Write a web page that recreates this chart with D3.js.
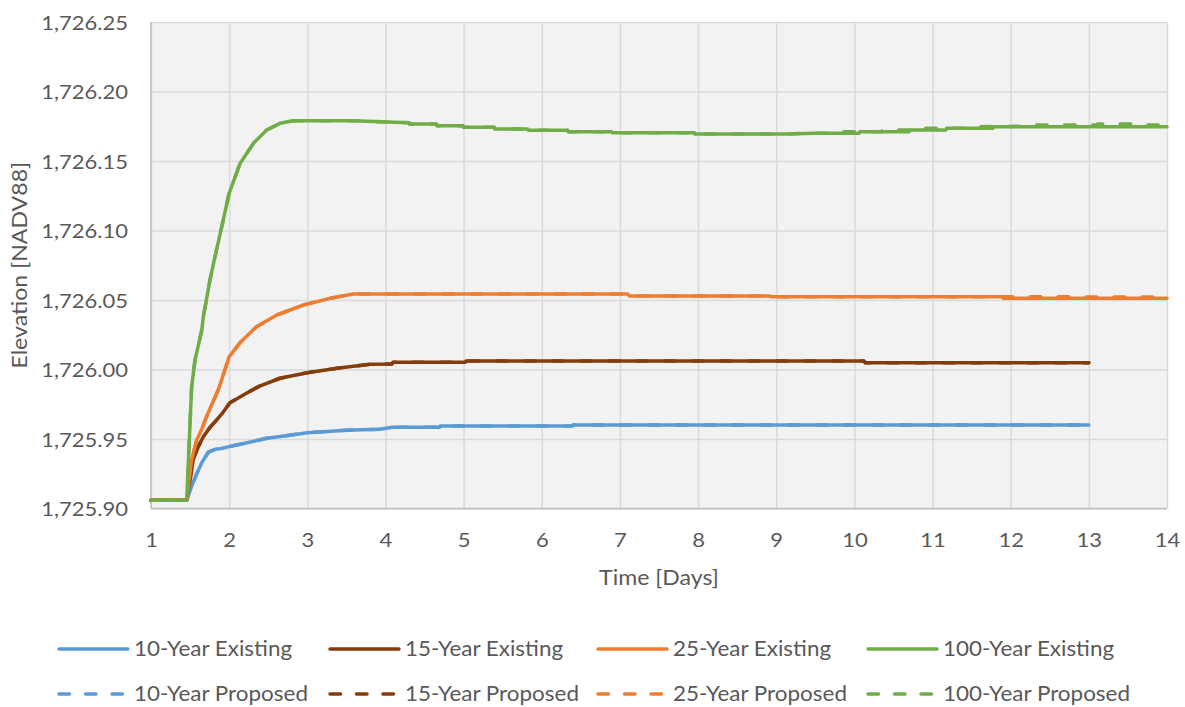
<!DOCTYPE html>
<html>
<head>
<meta charset="utf-8">
<script src="https://cdn.jsdelivr.net/npm/d3@7"></script>
<style>
  html, body { margin: 0; padding: 0; background: #ffffff; }
  svg { display: block; }
  text { font-family: Lato, "Open Sans", sans-serif; fill: #595959; }
</style>
</head>
<body>
<svg id="chart" width="1185" height="707"></svg>
<script>
// Water surface elevation over time for each storm event (day, elevation NAVD88)
const xTicks = [1, 2, 3, 4, 5, 6, 7, 8, 9, 10, 11, 12, 13, 14];
const yTicks = [1725.90, 1725.95, 1726.00, 1726.05, 1726.10, 1726.15, 1726.20, 1726.25];

const existing10 = [
  [1, 1725.906], [1.457, 1725.906], [1.52, 1725.916], [1.585, 1725.925], [1.65, 1725.933],
  [1.733, 1725.9405], [1.82, 1725.9426], [1.9, 1725.9432], [2.0, 1725.9445], [2.2, 1725.947],
  [2.48, 1725.9505], [2.75, 1725.9525], [3.0, 1725.9545], [3.5, 1725.9563], [3.93, 1725.957],
  [4.09, 1725.9584], [4.69, 1725.9584], [4.70, 1725.9594], [6.39, 1725.9594], [6.40, 1725.9601],
  [13, 1725.9601]
];
const proposed10 = [
  [1, 1725.906], [1.457, 1725.906], [1.52, 1725.916], [1.585, 1725.925], [1.65, 1725.933],
  [1.733, 1725.9405], [1.82, 1725.9426], [1.9, 1725.9432], [2.0, 1725.9445], [2.2, 1725.947],
  [2.48, 1725.9505], [2.75, 1725.9525], [3.0, 1725.9545], [3.5, 1725.9563], [3.93, 1725.957],
  [4.09, 1725.9584], [4.69, 1725.9584], [4.70, 1725.9594], [6.39, 1725.9594], [6.40, 1725.9601],
  [13, 1725.9601]
];

const existing15 = [
  [1, 1725.906], [1.457, 1725.906], [1.54, 1725.935], [1.60, 1725.944], [1.67, 1725.9517],
  [1.75, 1725.958], [1.84, 1725.9637], [1.92, 1725.969], [2.01, 1725.9761], [2.1, 1725.979],
  [2.22, 1725.9829], [2.39, 1725.9881], [2.65, 1725.9937], [3.0, 1725.9977], [3.38, 1726.0009],
  [3.8, 1726.0037], [4.08, 1726.0040], [4.1, 1726.0052], [5.02, 1726.0052], [5.03, 1726.0061],
  [10.12, 1726.0061], [10.14, 1726.0049], [13, 1726.0049]
];
const proposed15 = [
  [1, 1725.906], [1.457, 1725.906], [1.54, 1725.935], [1.60, 1725.944], [1.67, 1725.9517],
  [1.75, 1725.958], [1.84, 1725.9637], [1.92, 1725.969], [2.01, 1725.9761], [2.1, 1725.979],
  [2.22, 1725.9829], [2.39, 1725.9881], [2.65, 1725.9937], [3.0, 1725.9977], [3.38, 1726.0009],
  [3.8, 1726.0037], [4.08, 1726.0040], [4.1, 1726.0052], [5.02, 1726.0052], [5.03, 1726.0061],
  [10.12, 1726.0061], [10.14, 1726.0049], [13, 1726.0049]
];

const existing25 = [
  [1, 1725.906], [1.457, 1725.906], [1.52, 1725.935], [1.585, 1725.9493], [1.65, 1725.957],
  [1.71, 1725.966], [1.78, 1725.975], [1.86, 1725.9853], [1.93, 1725.997], [2.0, 1726.0092],
  [2.15, 1726.020], [2.35, 1726.0308], [2.61, 1726.0392], [2.95, 1726.0464], [3.29, 1726.0512],
  [3.59, 1726.0543], [7.10, 1726.0543], [7.12, 1726.0529], [8.91, 1726.0529], [8.93, 1726.0524],
  [11.89, 1726.0524], [11.91, 1726.0512], [14, 1726.0512]
];
const proposed25 = [
  [1, 1725.906], [1.457, 1725.906], [1.52, 1725.935], [1.585, 1725.9493], [1.65, 1725.957],
  [1.71, 1725.966], [1.78, 1725.975], [1.86, 1725.9853], [1.93, 1725.997], [2.0, 1726.0092],
  [2.15, 1726.020], [2.35, 1726.0308], [2.61, 1726.0392], [2.95, 1726.0464], [3.29, 1726.0512],
  [3.59, 1726.0543], [7.10, 1726.0543], [7.12, 1726.0529], [8.91, 1726.0529], [8.93, 1726.0524],
  [14, 1726.0522]
];

const existing100 = [
  [1, 1725.906], [1.457, 1725.906], [1.52, 1725.9876], [1.563, 1726.0068], [1.65, 1726.0284],
  [1.67, 1726.038], [1.755, 1726.0644], [1.80, 1726.0764], [1.905, 1726.1027], [2.0, 1726.1268],
  [2.14, 1726.1483], [2.31, 1726.1627], [2.48, 1726.1723], [2.65, 1726.1771], [2.82, 1726.1790],
  [3.6, 1726.1790], [3.93, 1726.1783], [4.30, 1726.1776], [4.31, 1726.1766], [4.65, 1726.1766],
  [4.66, 1726.1754], [4.99, 1726.1754], [5.0, 1726.1742], [5.39, 1726.1742], [5.40, 1726.1730],
  [5.82, 1726.1730], [5.83, 1726.1721], [6.33, 1726.1721], [6.34, 1726.1711], [6.89, 1726.1711],
  [6.9, 1726.1704], [7.95, 1726.1704], [7.96, 1726.1694], [9.1, 1726.1694], [9.5, 1726.1699],
  [10.06, 1726.1699], [10.07, 1726.1711], [10.70, 1726.1711], [10.71, 1726.1723], [11.17, 1726.1723],
  [11.18, 1726.1735], [11.77, 1726.1735], [11.78, 1726.1746], [14, 1726.1746]
];
const proposed100 = [
  [1, 1725.906], [1.457, 1725.906], [1.52, 1725.9876], [1.563, 1726.0068], [1.65, 1726.0284],
  [1.67, 1726.038], [1.755, 1726.0644], [1.80, 1726.0764], [1.905, 1726.1027], [2.0, 1726.1268],
  [2.14, 1726.1483], [2.31, 1726.1627], [2.48, 1726.1723], [2.65, 1726.1771], [2.82, 1726.1790],
  [3.6, 1726.1790], [3.93, 1726.1783], [4.30, 1726.1776], [4.31, 1726.1766], [4.65, 1726.1766],
  [4.66, 1726.1754], [4.99, 1726.1754], [5.0, 1726.1742], [5.39, 1726.1742], [5.40, 1726.1730],
  [5.82, 1726.1730], [5.83, 1726.1721], [6.33, 1726.1721], [6.34, 1726.1711], [6.89, 1726.1711],
  [6.9, 1726.1704], [7.95, 1726.1704], [7.96, 1726.1694], [9.1, 1726.1694], [9.4, 1726.1699],
  [9.75, 1726.1699], [9.76, 1726.1711], [10.35, 1726.1711], [10.36, 1726.1723], [10.9, 1726.1723],
  [10.91, 1726.1735], [11.45, 1726.1735], [11.46, 1726.1746], [12.2, 1726.1750], [12.3, 1726.1759],
  [13.1, 1726.1759], [13.11, 1726.1766], [13.7, 1726.1766], [13.71, 1726.1759], [14, 1726.1759]
];

const seriesNames = [
  "10-Year Existing", "15-Year Existing", "25-Year Existing", "100-Year Existing",
  "10-Year Proposed", "15-Year Proposed", "25-Year Proposed", "100-Year Proposed"
];
const seriesData = [existing10, existing15, existing25, existing100,
                    proposed10, proposed15, proposed25, proposed100];
const seriesColors = ["#5b9bd5", "#843c0c", "#ed7d31", "#70ad47",
                      "#5b9bd5", "#843c0c", "#ed7d31", "#70ad47"];
const seriesDashed = [false, false, false, false, true, true, true, true];

const svg = d3.select("#chart");
const plot = { left: 151, right: 1167, top: 22, bottom: 508.5 };

const x = d3.scaleLinear().domain([1, 14]).range([plot.left, plot.right]);
const y = d3.scaleLinear().domain([1725.90, 1726.25]).range([plot.bottom, plot.top]);

// Slightly widen glyphs for the Calibri-like proportions
function stretch(sel, k) {
  sel.each(function () {
    const w = this.getComputedTextLength();
    if (w > 0) {
      this.setAttribute("textLength", w * k);
      this.setAttribute("lengthAdjust", "spacingAndGlyphs");
    }
  });
}

// plot background
svg.append("rect")
  .attr("x", plot.left).attr("y", plot.top)
  .attr("width", plot.right - plot.left).attr("height", plot.bottom - plot.top)
  .attr("fill", "#f2f2f2");

// gridlines
const gx = svg.append("g")
  .attr("transform", `translate(0,${plot.bottom})`)
  .call(d3.axisBottom(x).tickValues(xTicks).tickSize(-(plot.bottom - plot.top)).tickFormat(""));
gx.select(".domain").remove();
gx.selectAll("line").attr("stroke", "#d9d9d9").attr("stroke-width", 1.5);

const gy = svg.append("g")
  .attr("transform", `translate(${plot.left},0)`)
  .call(d3.axisLeft(y).tickValues(yTicks).tickSize(-(plot.right - plot.left)).tickFormat(""));
gy.select(".domain").remove();
gy.selectAll("line").attr("stroke", "#d9d9d9").attr("stroke-width", 1.5);

// axis lines
svg.append("line")
  .attr("x1", plot.left).attr("x2", plot.left)
  .attr("y1", plot.top).attr("y2", plot.bottom)
  .attr("stroke", "#bfbfbf").attr("stroke-width", 1.5);
svg.append("line")
  .attr("x1", plot.left).attr("x2", plot.right)
  .attr("y1", plot.bottom).attr("y2", plot.bottom)
  .attr("stroke", "#bfbfbf").attr("stroke-width", 1.5);

// tick labels
const xLab = svg.append("g")
  .attr("transform", `translate(0,${plot.bottom})`)
  .call(d3.axisBottom(x).tickValues(xTicks).tickSize(0).tickPadding(0).tickFormat(d3.format("d")));
xLab.select(".domain").remove();
xLab.selectAll("text")
  .attr("dy", null).attr("y", 38)
  .style("font-size", "20px").style("font-family", "Lato").attr("fill", "#595959");
stretch(xLab.selectAll("text"), 1.1);

const yLab = svg.append("g")
  .attr("transform", `translate(${plot.left},0)`)
  .call(d3.axisLeft(y).tickValues(yTicks).tickSize(0).tickPadding(0).tickFormat(d3.format(",.2f")));
yLab.select(".domain").remove();
yLab.selectAll("text")
  .attr("dy", null).attr("x", -23).attr("y", 7)
  .style("font-size", "20px").style("font-family", "Lato").attr("fill", "#595959");
stretch(yLab.selectAll("text"), 1.1);

// axis titles
const xTitle = svg.append("text")
  .attr("x", (plot.left + plot.right) / 2).attr("y", 585)
  .attr("text-anchor", "middle")
  .style("font-size", "21px")
  .text("Time [Days]");
stretch(xTitle, 1.1);

const yTitle = svg.append("text")
  .attr("transform", `translate(27,${(plot.top + plot.bottom) / 2}) rotate(-90)`)
  .attr("text-anchor", "middle")
  .style("font-size", "21px")
  .text("Elevation [NADV88]");
stretch(yTitle, 1.1);

// series lines
const line = d3.line().x(d => x(d[0])).y(d => y(d[1]));
const lines = svg.append("g");
seriesData.forEach((data, i) => {
  lines.append("path")
    .datum(data)
    .attr("d", line)
    .attr("fill", "none")
    .attr("stroke", seriesColors[i])
    .attr("stroke-width", 3.5)
    .attr("stroke-linejoin", "round")
    .attr("stroke-linecap", "round")
    .attr("stroke-dasharray", seriesDashed[i] ? "10.5,17.5" : null);
});

// legend
const legendX = [59, 330, 598, 868];
const legendY = [649, 694];
const legend = svg.append("g");
seriesNames.forEach((name, i) => {
  const col = i % 4, row = Math.floor(i / 4);
  const lx = legendX[col], ly = legendY[row];
  legend.append("line")
    .attr("x1", lx).attr("x2", lx + 69)
    .attr("y1", ly).attr("y2", ly)
    .attr("stroke", seriesColors[i])
    .attr("stroke-width", 3.5)
    .attr("stroke-linecap", "round")
    .attr("stroke-dasharray", seriesDashed[i] ? "10.5,16" : null);
  const t = legend.append("text")
    .attr("x", lx + 75).attr("y", ly + 7)
    .style("font-size", "20.4px")
    .text(name);
  stretch(t, 1.1);
});
</script>
</body>
</html>
